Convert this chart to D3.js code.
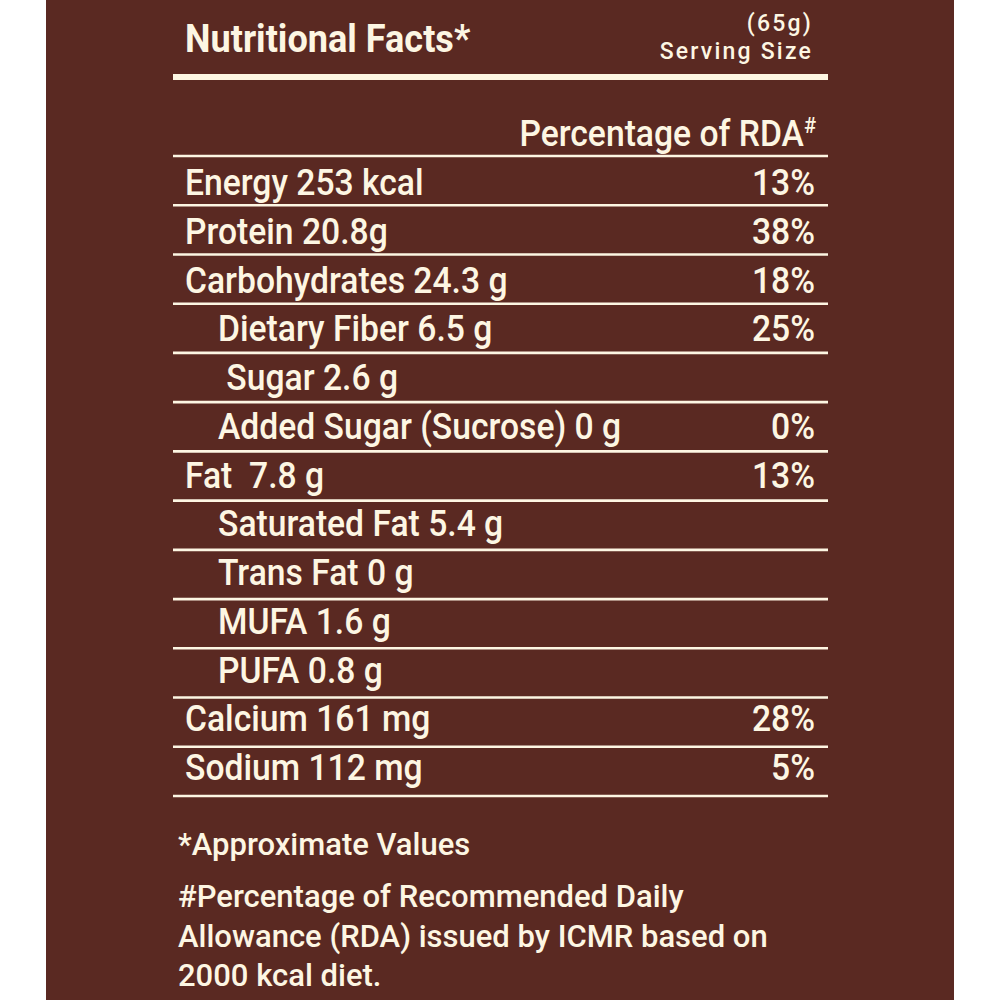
<!DOCTYPE html>
<html>
<head>
<meta charset="utf-8">
<script src="https://cdn.jsdelivr.net/npm/d3@7"></script>
<style>
  html, body { margin: 0; padding: 0; background: #ffffff; }
  svg { display: block; }
  text { font-family: Roboto, "Noto Sans", sans-serif; fill: #fdf6e3; white-space: pre; }
</style>
</head>
<body>
<div id="chart"></div>
<script>
// table content
const nutrients = [
  "Energy 253 kcal",
  "Protein 20.8g",
  "Carbohydrates 24.3 g",
  "Dietary Fiber 6.5 g",
  " Sugar 2.6 g",
  "Added Sugar (Sucrose) 0 g",
  "Fat  7.8 g",
  "Saturated Fat 5.4 g",
  "Trans Fat 0 g",
  "MUFA 1.6 g",
  "PUFA 0.8 g",
  "Calcium 161 mg",
  "Sodium 112 mg",
];
const levels = [0, 0, 0, 1, 1, 1, 0, 1, 1, 1, 1, 0, 0];
const rdaPercent = [13, 38, 18, 25, null, 0, 13, null, null, null, null, 28, 5];

const title = "Nutritional Facts*";
const servingAmount = "(65g)";
const servingLabel = "Serving Size";
const columnHeader = "Percentage of RDA";
const footnotes = [
  "*Approximate Values",
  "#Percentage of Recommended Daily",
  "Allowance (RDA) issued by ICMR based on",
  "2000 kcal diet.",
];

const WIDTH = 1000;
const HEIGHT = 1000;
const BROWN = "#5a2922";
const CREAM = "#fdf6e3";
const LEFT = 173;
const RIGHT = 828;
const SQUEEZE = 0.91;

const d3 = window.d3;

const svg = d3
  .select("#chart")
  .append("svg")
  .attr("width", WIDTH)
  .attr("height", HEIGHT)
  .attr("viewBox", `0 0 ${WIDTH} ${HEIGHT}`);

svg.append("rect").attr("x", 46).attr("y", 0).attr("width", 908).attr("height", HEIGHT).attr("fill", BROWN);

// header
svg
  .append("text")
  .attr("transform", `translate(185,52) scale(0.95,1)`)
  .style("font-size", "38px")
  .style("font-weight", 700)
  .text(title);

svg
  .append("text")
  .attr("x", 813)
  .attr("y", 31)
  .attr("text-anchor", "end")
  .style("font-size", "23px")
  .style("font-weight", 500)
  .style("letter-spacing", "2.2px")
  .text(servingAmount);

svg
  .append("text")
  .attr("x", 813)
  .attr("y", 59)
  .attr("text-anchor", "end")
  .style("font-size", "23px")
  .style("font-weight", 500)
  .style("letter-spacing", "2.2px")
  .text(servingLabel);

svg.append("rect").attr("x", LEFT).attr("y", 74).attr("width", RIGHT - LEFT).attr("height", 6).attr("fill", CREAM);

const rdaHead = svg
  .append("text")
  .attr("transform", `translate(816,146) scale(${SQUEEZE},1)`)
  .attr("text-anchor", "end")
  .style("font-size", "37px")
  .style("font-weight", 500);
rdaHead.append("tspan").text(columnHeader);
rdaHead.append("tspan").attr("dy", -13).style("font-size", "22px").text("#");

// rows
const rowIdx = d3.range(nutrients.length);
const lineY = d3.scaleLinear().domain([0, nutrients.length]).range([156, 796]);
const textY = d3.scaleLinear().domain([0, nutrients.length - 1]).range([195, 780]);
const indentX = d3.scaleOrdinal().domain([0, 1]).range([185, 218]);

svg
  .append("g")
  .attr("class", "rules")
  .selectAll("line")
  .data(d3.range(nutrients.length + 1))
  .join("line")
  .attr("x1", LEFT)
  .attr("x2", RIGHT)
  .attr("y1", (d) => lineY(d))
  .attr("y2", (d) => lineY(d))
  .attr("stroke", CREAM)
  .attr("stroke-width", 2.6);

svg
  .append("g")
  .attr("class", "labels")
  .selectAll("text")
  .data(rowIdx)
  .join("text")
  .attr("transform", (i) => `translate(${indentX(levels[i])},${textY(i)}) scale(${SQUEEZE},1)`)
  .style("font-size", "37px")
  .style("font-weight", 500)
  .text((i) => nutrients[i]);

svg
  .append("g")
  .attr("class", "values")
  .selectAll("text")
  .data(rowIdx.filter((i) => rdaPercent[i] !== null))
  .join("text")
  .attr("transform", (i) => `translate(815,${textY(i)}) scale(${SQUEEZE},1)`)
  .attr("text-anchor", "end")
  .style("font-size", "37px")
  .style("font-weight", 500)
  .text((i) => `${rdaPercent[i]}%`);

// footnotes
const noteY = d3.scaleOrdinal().domain(d3.range(footnotes.length)).range([855, 907, 947, 986]);

svg
  .append("g")
  .attr("class", "notes")
  .selectAll("text")
  .data(footnotes)
  .join("text")
  .attr("x", 178)
  .attr("y", (_, i) => noteY(i))
  .style("font-size", "31px")
  .style("font-weight", 500)
  .text((d) => d);
</script>
</body>
</html>
